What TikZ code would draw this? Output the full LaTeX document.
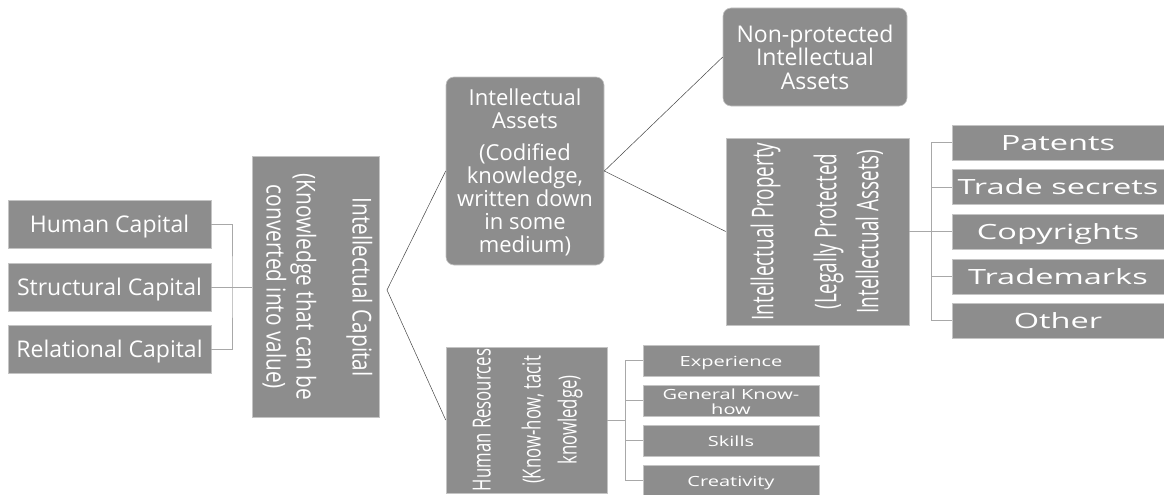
\documentclass[tikz,border=0pt]{standalone}
\usepackage{fontspec}
\setmainfont{Open Sans}
\usepackage{graphicx}
\definecolor{boxfill}{HTML}{8D8D8D}
\definecolor{boxline}{HTML}{C4C4C4}
\definecolor{linkgray}{HTML}{A8A8A8}
\definecolor{diaggray}{HTML}{454545}
\newcommand{\vtxt}[3]{\rotatebox{#1}{\scalebox{#2}[1]{#3}}}
\newcommand{\low}[1]{\raisebox{-3pt}[\height][\depth]{#1}}
\newcommand{\wide}[2]{\low{\scalebox{#1}[1]{\begin{tabular}{@{}c@{}}#2\end{tabular}}}}

\begin{document}
\begin{tikzpicture}[
    x=1pt, y=-1pt,
    box/.style={draw=boxline, fill=boxfill, text=white, inner sep=0pt, line width=0.6pt},
    left box/.style={box, minimum width=203pt, minimum height=48pt, font=\fontsize{23}{26}\selectfont},
    round box/.style={box, rounded corners=8pt, align=center},
    leaf big/.style={box, minimum width=212pt, minimum height=35pt, font=\fontsize{21}{24}\selectfont},
    leaf small/.style={box, minimum width=176pt, minimum height=31pt, font=\fontsize{14}{15}\selectfont},
    link/.style={draw=linkgray, line width=0.6pt},
    diag/.style={draw=diaggray, line width=0.5pt},
]
\useasboundingbox (0,0) rectangle (1164,495);

\node[left box] (hc) at (109.5,224) {\low{Human Capital}};
\node[left box] (sc) at (109.5,287) {\low{Structural Capital}};
\node[left box] (rc) at (109.5,349) {\low{Relational Capital}};

\node[box, minimum width=127pt, minimum height=261pt] (ic) at (315.5,287)
    {\vtxt{-90}{0.8}{\fontsize{26}{30}\selectfont\begin{tabular}{@{}c@{}}Intellectual Capital\\[26pt](Knowledge that can be\\converted into value)\end{tabular}}};

\node[round box, minimum width=158pt, minimum height=188pt, font=\fontsize{22}{21.5}\selectfont] (ia) at (525,171)
    {\low{\begin{tabular}{@{}c@{}}Intellectual\\Assets\\[9pt](Codified\\knowledge,\\written down\\in some\\medium)\end{tabular}}};
\node[round box, minimum width=184pt, minimum height=98pt, font=\fontsize{23}{23.5}\selectfont] (np) at (815,57)
    {Non-protected\\Intellectual\\Assets};

\node[box, minimum width=183pt, minimum height=187pt] (ip) at (817.5,231.5)
    {\vtxt{90}{0.63}{\fontsize{30}{42}\selectfont\begin{tabular}{@{}c@{}}Intellectual Property\\[21pt](Legally Protected\\Intellectual Assets)\end{tabular}}};
\node[box, minimum width=161pt, minimum height=146pt] (hr) at (526.5,420)
    {\vtxt{90}{0.67}{\fontsize{25}{36}\selectfont\begin{tabular}{@{}c@{}}Human Resources\\[14pt](Know-how, tacit\\knowledge)\end{tabular}}};

\foreach \nm/\y/\txt in {pat/142.5/Patents, trs/187/Trade secrets, cop/231.5/Copyrights, trm/276.5/Trademarks, oth/320.5/Other}
    \node[leaf big] (\nm) at (1058,\y) {\wide{1.55}{\txt}};
\foreach \nm/\y/\txt in {exp/360.5/Experience, gkh/400.5/{General Know-\\how}, skl/440.5/Skills, cre/480.5/Creativity}
    \node[leaf small] (\nm) at (731,\y) {\wide{1.43}{\txt}};

\coordinate (lb) at (232,287);
\draw[link] (hc.east) -| (lb) |- (rc.east);
\draw[link] (sc.east) -- (ic.west);

\coordinate (ap) at (387,290);
\draw[diag] (ia.west) -- (ap) -- (hr.west);
\draw[diag] (np.west) -- (ia.east) -- (ip.west);

\coordinate (ipb) at (931,231.5);
\draw[link] (ip.east) -- (ipb);
\draw[link] (ipb |- pat.west) -- (ipb |- oth.west);
\foreach \nm in {pat,trs,cop,trm,oth}
    \draw[link] (ipb |- \nm.west) -- (\nm.west);

\coordinate (hrb) at (625,420);
\draw[link] (hr.east) -- (hrb);
\draw[link] (hrb |- exp.west) -- (hrb |- cre.west);
\foreach \nm in {exp,gkh,skl,cre}
    \draw[link] (hrb |- \nm.west) -- (\nm.west);

\end{tikzpicture}
\end{document}
